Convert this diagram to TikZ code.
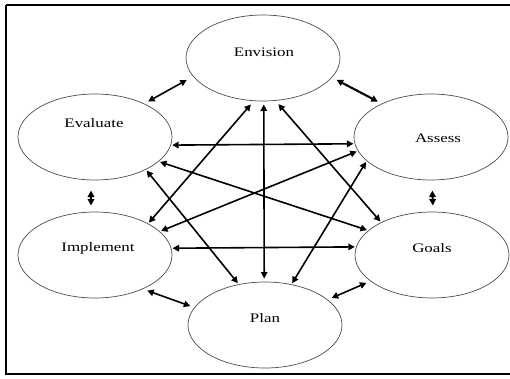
\documentclass[tikz,border=0pt]{standalone}
\usepackage{fontspec}
\setmainfont{Liberation Serif}
\usetikzlibrary{shapes.geometric,arrows.meta}
\begin{document}
\begin{tikzpicture}[x=1pt,y=-1pt,
  stage/.style={ellipse,draw=black!70,line width=0.7pt,inner sep=0pt,outer sep=1.5pt,
                minimum width=154pt,minimum height=86pt},
  stagetext/.style={inner sep=0pt,font=\fontsize{13}{15}\selectfont},
  link/.style={line width=1.6pt,{Triangle[length=6.5pt,width=6.5pt]}-{Triangle[length=6.5pt,width=6.5pt]}},
  boldlink/.style={link,line width=2.1pt}]
\useasboundingbox (0,0) rectangle (510,378);
\draw[line width=1.5pt] (6,5) -- (520,5);
\draw[line width=1.8pt] (6,5) -- (6,374) -- (520,374);
% stages
\node[stage] (env) at (263,58) {};
\node[stage] (eva) at (95,137) {};
\node[stage] (ass) at (431,137) {};
\node[stage] (imp) at (95,255) {};
\node[stage] (goa) at (432,255) {};
\node[stage] (pla) at (265,325) {};
% labels
\node[stagetext] (envT) at (264,52) {\scalebox{1.3}[1]{Envision}};
\node[stagetext] (evaT) at (94,123) {\scalebox{1.3}[1]{Evaluate}};
\node[stagetext] (assT) at (438,138) {\scalebox{1.3}[1]{Assess}};
\node[stagetext] (impT) at (98,248) {\scalebox{1.3}[1]{Implement}};
\node[stagetext] (goaT) at (432,248) {\scalebox{1.3}[1]{Goals}};
\node[stagetext] (plaT) at (265,318) {\scalebox{1.3}[1]{Plan}};
% neighbour links
\draw[link,shorten <=6pt,shorten >=3pt] (env.195.8) -- (eva.34.2);
\draw[boldlink,shorten <=4pt,shorten >=3pt] (env.344.9) -- (ass.146);
\draw[boldlink,shorten <=9pt,shorten >=5pt] ([xshift=-4pt]eva.south) -- ([xshift=-4pt]imp.north);
\draw[boldlink,shorten <=9pt,shorten >=5pt] ([xshift=1pt]ass.south) -- ([xshift=1pt]goa.north);
\draw[link,shorten <=3pt,shorten >=3pt] (imp.325.8) -- (pla.166.5);
\draw[link,shorten <=3pt,shorten >=3pt] (goa.203.3) -- (pla.22.6);
% cross links
\draw[link] (eva.354.9) -- (ass.185.1);
\draw[link] (imp.5.8) -- (goa.174.1);
\draw[link,shorten <=2pt,shorten >=2pt] (env.-89) -- (pla.91);
\draw[link,shorten <=3pt] (env.257.3) -- (imp.31.9);
\draw[link,shorten <=3pt] (env.287) -- (goa.147.6);
\draw[link] (eva.327.6) -- (pla.123.7);
\draw[link] (eva.339.5) -- (goa.159.3);
\draw[link] (ass.191.7) -- (imp.20.7);
\draw[link] (ass.201.6) -- (pla.57.3);
\end{tikzpicture}
\end{document}
